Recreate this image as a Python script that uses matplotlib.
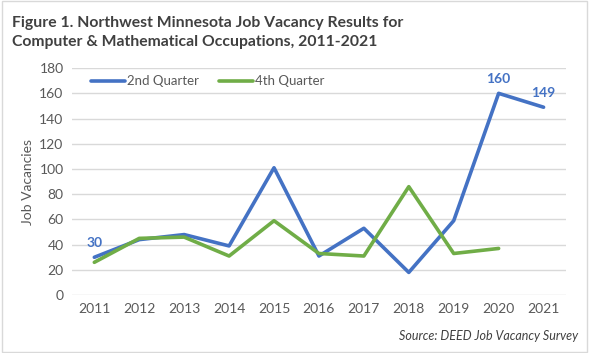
import matplotlib
matplotlib.use("Agg")
import matplotlib.pyplot as plt
from matplotlib.patches import Rectangle

years = ["2011", "2012", "2013", "2014", "2015", "2016", "2017", "2018", "2019", "2020", "2021"]
q2 = [30, 44, 48, 39, 101, 31, 53, 18, 59, 160, 149]
q4 = [26, 45, 46, 31, 59, 33, 31, 86, 33, 37]
y_ticks = [0, 20, 40, 60, 80, 100, 120, 140, 160, 180]
labeled = {0: "30", 9: "160", 10: "149"}

plt.rcParams['font.family'] = ['Lato', 'DejaVu Sans']

BLUE = "#4472C4"
GREEN = "#70AD47"
GRAY = "#595959"

fig = plt.figure(figsize=(5.89, 3.53), dpi=100)
fig.patches.append(Rectangle((0.003, 0.003), 0.994, 0.994, transform=fig.transFigure,
                             fill=False, edgecolor="#D9D9D9", linewidth=1))
ax = fig.add_axes([0.122, 0.164, 0.839, 0.643])

x = list(range(len(years)))
ax.plot(x, q2, color=BLUE, lw=2.6, solid_capstyle="round", solid_joinstyle="round", label="2nd Quarter")
ax.plot(x[:len(q4)], q4, color=GREEN, lw=2.6, solid_capstyle="round", solid_joinstyle="round", label="4th Quarter")

for i, t in labeled.items():
    ax.annotate(t, (x[i], q2[i]), xytext=(0, 6), textcoords="offset points",
                ha="center", va="bottom", color=BLUE, fontsize=10, fontweight="bold")

ax.set_xlim(-0.5, len(years) - 0.5)
ax.set_ylim(0, 180)
ax.set_yticks(y_ticks)
ax.set_xticks(x)
ax.set_xticklabels(years)
ax.grid(axis="y", color="#D9D9D9", lw=1)
ax.set_axisbelow(True)
for s in ax.spines.values():
    s.set_visible(False)
ax.tick_params(length=0, labelsize=10, colors=GRAY, pad=6)
ax.set_ylabel("Job Vacancies", color=GRAY, fontsize=10, labelpad=4)

leg = ax.legend(loc="upper left", bbox_to_anchor=(0.015, 1.02), ncol=2, frameon=False,
                fontsize=9.5, handlelength=2.6, handletextpad=0.15, columnspacing=1.5)
for t in leg.get_texts():
    t.set_color(GRAY)

fig.text(0.02, 0.955, "Figure 1. Northwest Minnesota Job Vacancy Results for\nComputer & Mathematical Occupations, 2011-2021",
         ha="left", va="top", fontsize=11.3, fontweight="bold", color="#404040", linespacing=1.45)
fig.text(0.982, 0.03, "Source: DEED Job Vacancy Survey", ha="right", va="bottom",
         fontsize=9, style="italic", color="#404040")

fig.savefig("out.png", dpi=100)
